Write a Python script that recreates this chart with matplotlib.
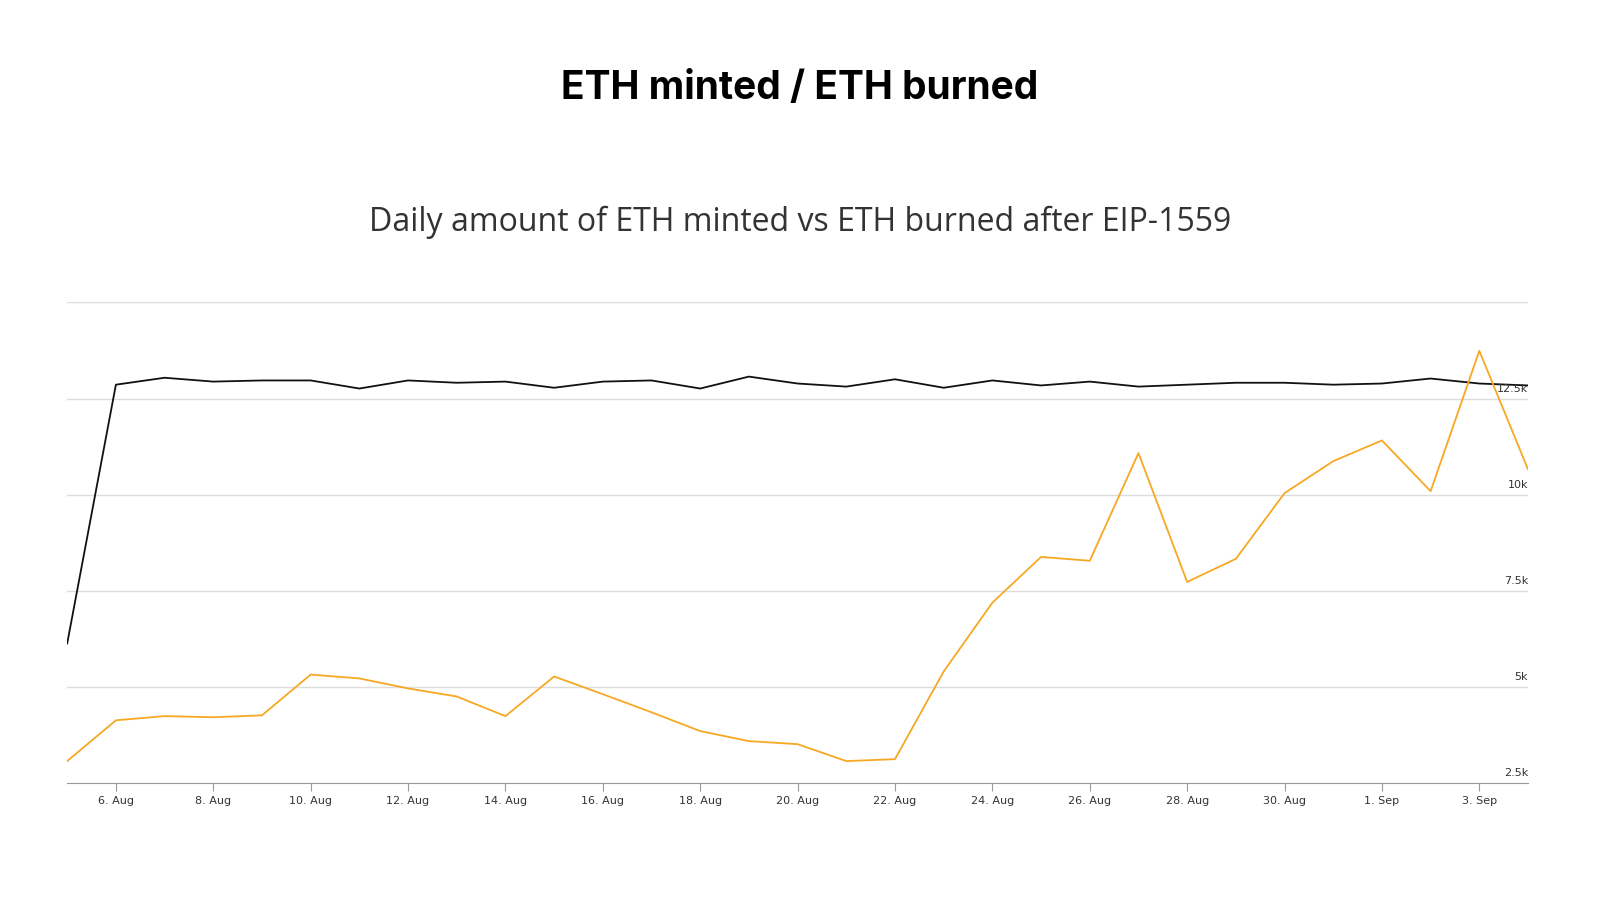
import matplotlib.pyplot as plt
import numpy as np

days = ['5. Aug', '6. Aug', '7. Aug', '8. Aug', '9. Aug', '10. Aug', '11. Aug', '12. Aug',
        '13. Aug', '14. Aug', '15. Aug', '16. Aug', '17. Aug', '18. Aug', '19. Aug', '20. Aug',
        '21. Aug', '22. Aug', '23. Aug', '24. Aug', '25. Aug', '26. Aug', '27. Aug', '28. Aug',
        '29. Aug', '30. Aug', '31. Aug', '1. Sep', '2. Sep', '3. Sep', '4. Sep']
eth_minted = [6.13, 12.86, 13.04, 12.94, 12.97, 12.97, 12.76, 12.97, 12.91, 12.94, 12.78,
              12.94, 12.97, 12.76, 13.07, 12.89, 12.81, 13.0, 12.78, 12.97, 12.84, 12.94,
              12.81, 12.86, 12.91, 12.91, 12.86, 12.89, 13.02, 12.89, 12.84]
eth_burned = [3.07, 4.13, 4.24, 4.21, 4.26, 5.32, 5.22, 4.96, 4.75, 4.24, 5.27, 4.81, 4.34,
              3.85, 3.59, 3.51, 3.07, 3.12, 5.40, 7.19, 8.38, 8.28, 11.08, 7.73, 8.33, 10.04,
              10.87, 11.41, 10.09, 13.74, 10.66]
y_ticks = [2.5, 5, 7.5, 10, 12.5, 15]
y_labels = ['2.5k', '5k', '7.5k', '10k', '12.5k', '']

fig = plt.figure(figsize=(16, 9), dpi=100)
ax = fig.add_axes([0.042, 0.13, 0.913, 0.534])
x = np.arange(len(days))

for t in y_ticks[1:]:
    ax.axhline(t, color='#dddddd', linewidth=1, zorder=0)
ax.plot(x, eth_minted, color='#111111', linewidth=1.3)
ax.plot(x, eth_burned, color='#f7a823', linewidth=1.3)

ax.set_xlim(0, len(days) - 1)
ax.set_ylim(2.5, 15)
for t, lab in zip(y_ticks, y_labels):
    ax.text(len(days) - 1, t + 0.12, lab, ha='right', va='bottom', fontsize=8,
            color='#333333', family='DejaVu Sans')
ax.set_yticks([])
ax.set_xticks(x[1::2])
ax.set_xticklabels(days[1::2], fontsize=8, color='#333333')
ax.tick_params(axis='x', length=6, color='#999999')
for s in ['top', 'right', 'left']:
    ax.spines[s].set_visible(False)
ax.spines['bottom'].set_color('#999999')

fig.text(0.5, 0.902, 'ETH minted / ETH burned', ha='center', va='center',
         fontsize=28, fontweight='bold', family='Inter')
fig.text(0.5, 0.753, 'Daily amount of ETH minted vs ETH burned after EIP-1559', ha='center',
         va='center', fontsize=23, color='#333333', family='Open Sans')

plt.savefig('out.png', dpi=100)
